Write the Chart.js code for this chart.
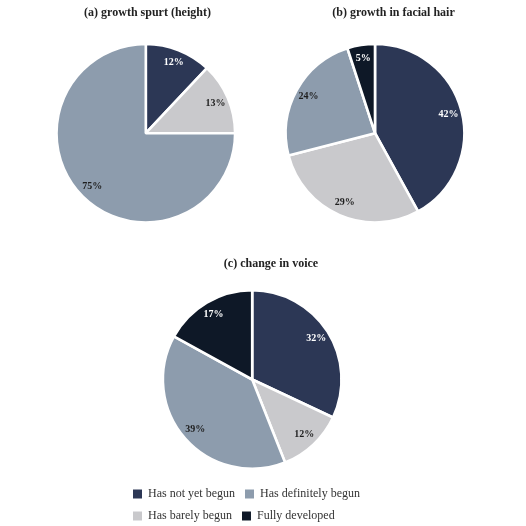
<!DOCTYPE html>
<html>
<head>
<meta charset="utf-8">
<script src="https://cdn.jsdelivr.net/npm/chart.js@4"></script>
<style>
  html, body { margin: 0; padding: 0; background: #fff; overflow: hidden; }
  canvas { position: absolute; }
  #chart-height { left: 0; top: 0; }
  #chart-hair { left: 263px; top: 0; }
  #chart-voice { left: 0; top: 240px; }
</style>
</head>
<body>
<canvas id="chart-height" width="263" height="236"></canvas>
<canvas id="chart-hair" width="263" height="236"></canvas>
<canvas id="chart-voice" width="526" height="292"></canvas>
<script>
// data
const categories = ['Has not yet begun', 'Has barely begun', 'Has definitely begun', 'Fully developed'];
const heightValues = [12, 13, 75, 0];
const facialHairValues = [42, 29, 24, 5];
const voiceValues = [32, 12, 39, 17];
const legendOrder = [0, 2, 1, 3];

const sliceColors = ['#2c3755', '#c9c9cc', '#8d9cad', '#0e1827'];
const labelColors = ['#ffffff', '#1e1e1e', '#1e1e1e', '#ffffff'];
const serif = "'Liberation Serif', 'Times New Roman', serif";

// moves the pie sideways inside its chart area (title stays centred)
const pieShift = {
    id: 'pieShift',
    afterLayout(chart, args, opts) {
        const dx = opts.dx || 0;
        chart.chartArea.left += dx;
        chart.chartArea.right += dx;
    }
};

// percentage labels inside the slices
const sliceLabels = {
    id: 'sliceLabels',
    afterDatasetsDraw(chart) {
        const ctx = chart.ctx;
        const meta = chart.getDatasetMeta(0);
        const values = chart.data.datasets[0].data;
        ctx.save();
        ctx.font = 'bold 10px ' + serif;
        ctx.textAlign = 'center';
        ctx.textBaseline = 'middle';
        meta.data.forEach((arc, i) => {
            if (!values[i]) return;
            const p = arc.getProps(['x', 'y', 'startAngle', 'endAngle', 'outerRadius']);
            const mid = (p.startAngle + p.endAngle) / 2;
            const r = p.outerRadius * 0.85;
            ctx.fillStyle = labelColors[i];
            ctx.fillText(values[i] + '%', p.x + Math.cos(mid) * r, p.y + Math.sin(mid) * r);
        });
        ctx.restore();
    }
};

function makePie(id, title, values, opts) {
    return new Chart(document.getElementById(id), {
        type: 'pie',
        data: {
            labels: categories,
            datasets: [{
                data: values,
                backgroundColor: sliceColors,
                borderColor: '#ffffff',
                borderWidth: 2.6,
                radius: 89.3
            }]
        },
        options: {
            responsive: false,
            animation: false,
            layout: { padding: opts.padding },
            plugins: {
                title: {
                    display: true,
                    text: title,
                    color: '#222',
                    font: { family: serif, size: 12, weight: 'bold' },
                    padding: opts.titlePadding
                },
                legend: opts.legend || { display: false },
                tooltip: { enabled: false },
                pieShift: { dx: opts.dx }
            }
        },
        plugins: [pieShift, sliceLabels]
    });
}

makePie('chart-height', '(a) growth spurt (height)', heightValues, {
    padding: { left: 32, right: 0, top: 0, bottom: 0 },
    titlePadding: { top: 6, bottom: 10 },
    dx: -1.7
});

makePie('chart-hair', '(b) growth in facial hair', facialHairValues, {
    padding: { left: 0, right: 2, top: 0, bottom: 0 },
    titlePadding: { top: 6, bottom: 10 },
    dx: -18.5
});

makePie('chart-voice', '(c) change in voice', voiceValues, {
    padding: { left: 123, right: 107, top: 0, bottom: 0 },
    titlePadding: { top: 16.8, bottom: 9.8 },
    dx: -18.8,
    legend: {
        display: true,
        position: 'bottom',
        align: 'start',
        labels: {
            color: '#333',
            font: { family: serif, size: 12 },
            boxWidth: 9,
            boxHeight: 9,
            padding: 10,
            sort: (a, b) => legendOrder.indexOf(a.index) - legendOrder.indexOf(b.index),
            generateLabels: (chart) => Chart.overrides.pie.plugins.legend.labels
                .generateLabels(chart).map(item => ({ ...item, lineWidth: 0 }))
        }
    }
});
</script>
</body>
</html>
